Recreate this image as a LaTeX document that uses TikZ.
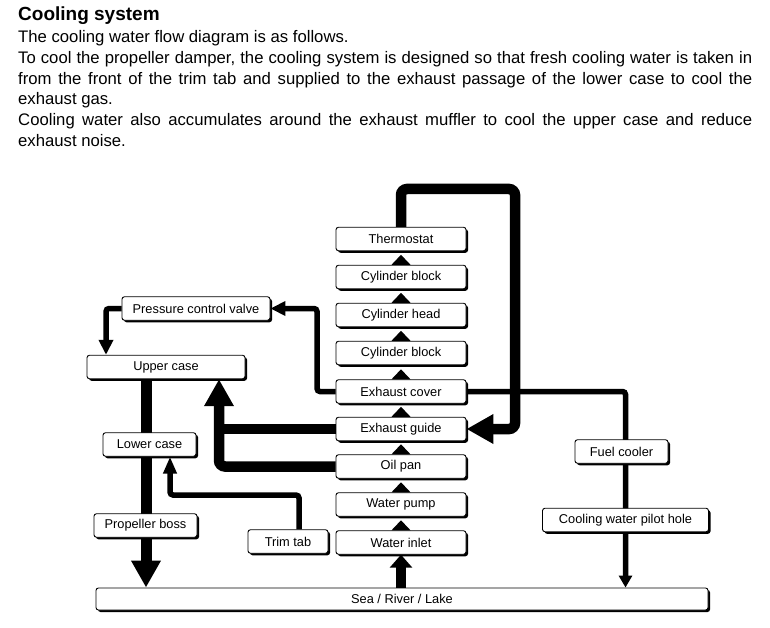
\documentclass[tikz,border=0pt]{standalone}
\usepackage{fontspec}
\setmainfont{Liberation Sans}
\usetikzlibrary{arrows.meta,shadows,backgrounds}
\begin{document}
\begin{tikzpicture}[x=1pt,y=-1pt,
  box/.style={draw=black, line width=0.9pt, rounded corners=2.5pt, fill=white,
    inner sep=0pt, minimum height=23.5pt, font=\fontsize{12.8}{14}\selectfont,
    drop shadow={shadow xshift=2pt, shadow yshift=-2pt, fill=black, opacity=1}},
  thickline/.style={line width=10.5pt, rounded corners=6pt},
  thinline/.style={line width=5.5pt, rounded corners=3pt},
  bighead/.style={-{Triangle[length=27pt,width=28pt]}},
  smallhead/.style={-{Triangle[length=15pt,width=14pt]}},
  medhead/.style={-{Triangle[length=17pt,width=13pt]}},
  inhead/.style={-{Triangle[length=13pt,width=22pt]}}
]
\useasboundingbox (0,0) rectangle (770,628);

% text
\node[anchor=base west, inner sep=0pt, font=\bfseries\fontsize{19}{22}\selectfont] (title) at (18,21) {Cooling system};
\node[anchor=base west, inner sep=0pt, text width=734pt, align=justify,
  font=\fontsize{16.7}{20.8}\selectfont] (body) at (18,42.5)
  {\parindent=0pt The cooling water flow diagram is as follows.\par
   To cool the propeller damper, the cooling system is designed so that fresh cooling water is taken in\linebreak
   from the front of the trim tab and supplied to the exhaust passage of the lower case to cool the\linebreak
   exhaust gas.\par
   Cooling water also accumulates around the exhaust muffler to cool the upper case and reduce\linebreak
   exhaust noise.\par};

% central column
\node[box, minimum width=130pt] (therm) at (401,239)   {Thermostat};
\node[box, minimum width=130pt] (cb1)   at (401,277)   {Cylinder block};
\node[box, minimum width=130pt] (ch)    at (401,315)   {Cylinder head};
\node[box, minimum width=130pt] (cb2)   at (401,353)   {Cylinder block};
\node[box, minimum width=130pt] (ec)    at (401,391.5) {Exhaust cover};
\node[box, minimum width=130pt] (eg)    at (401,429)   {Exhaust guide};
\node[box, minimum width=130pt] (op)    at (401,466.5) {Oil pan};
\node[box, minimum width=130pt] (wp)    at (401,504.5) {Water pump};
\node[box, minimum width=130pt] (wi)    at (401,542.5) {Water inlet};

% left side
\node[box, minimum width=148pt] (pcv) at (196,308.5) {Pressure control valve};
\node[box, minimum width=158pt] (uc)  at (166,367)   {Upper case};
\node[box, minimum width=93pt]  (lc)  at (149.5,444.5) {Lower case};
\node[box, minimum width=103pt] (pb)  at (145.5,525.5) {Propeller boss};
\node[box, minimum width=80pt]  (tt)  at (288,541.5) {Trim tab};

% right side
\node[box, minimum width=93pt]  (fc)   at (621.5,451.5) {Fuel cooler};
\node[box, minimum width=166pt] (cwph) at (625.5,520)   {Cooling water pilot hole};

% bottom
\node[box, minimum width=612pt, minimum height=22pt] (sea) at (402,599) {Sea / River / Lake};

% helper coordinates
\coordinate (loopc) at (515,189);
\coordinate (pv) at (317,0);
\coordinate (fcx) at (625.5,0);
\coordinate (ucin) at ([xshift=-60pt]uc.north);
\coordinate (ucout) at ([xshift=-20pt]uc.south);
\coordinate (ucin2) at ([xshift=53pt]uc.south);
\coordinate (ttout) at ([xshift=11pt]tt.north);
\coordinate (ttturn) at (170,495);
\coordinate (lcin) at ([xshift=20.5pt]lc.south);
\coordinate (pcvturn) at (pv |- pcv.east);

\begin{pgfonlayer}{background}
  % thermostat loop back to exhaust guide
  \draw[thickline, bighead] (therm.north) |- (loopc) |- (eg.east);
  % exhaust cover -> fuel cooler -> pilot hole -> sea
  \draw[thinline, -{Triangle[length=12pt,width=13pt]}] (ec.east) -| (sea.north -| fcx);
  % exhaust cover -> pressure control valve
  \draw[thinline, smallhead] (ec.west) -| (pcvturn) -- (pcv.east);
  % pressure control valve -> upper case
  \draw[thinline, smallhead] (pcv.west) -| (ucin);
  % upper case -> lower case -> propeller boss -> sea
  \draw[line width=11pt, bighead] (ucout) -- (ucout |- sea.north);
  % trim tab -> lower case
  \draw[thinline, medhead] (ttout) |- (ttturn) -- (lcin);
  % oil pan / exhaust guide -> upper case
  \draw[thickline, bighead] (op.west) -| (ucin2);
  \draw[thickline] (eg.west) -- (eg.west -| ucin2);
  % sea -> water inlet
  \draw[line width=10pt, inhead] (wi.south |- sea.north) -- (wi.south);
\end{pgfonlayer}

% small flow triangles in the column
\foreach \n in {cb1,ch,cb2,ec,eg,op,wp,wi}
  \fill ([xshift=-9.5pt]\n.north) -- ([xshift=9.5pt]\n.north) -- ([yshift=10pt]\n.north) -- cycle;

\end{tikzpicture}
\end{document}
